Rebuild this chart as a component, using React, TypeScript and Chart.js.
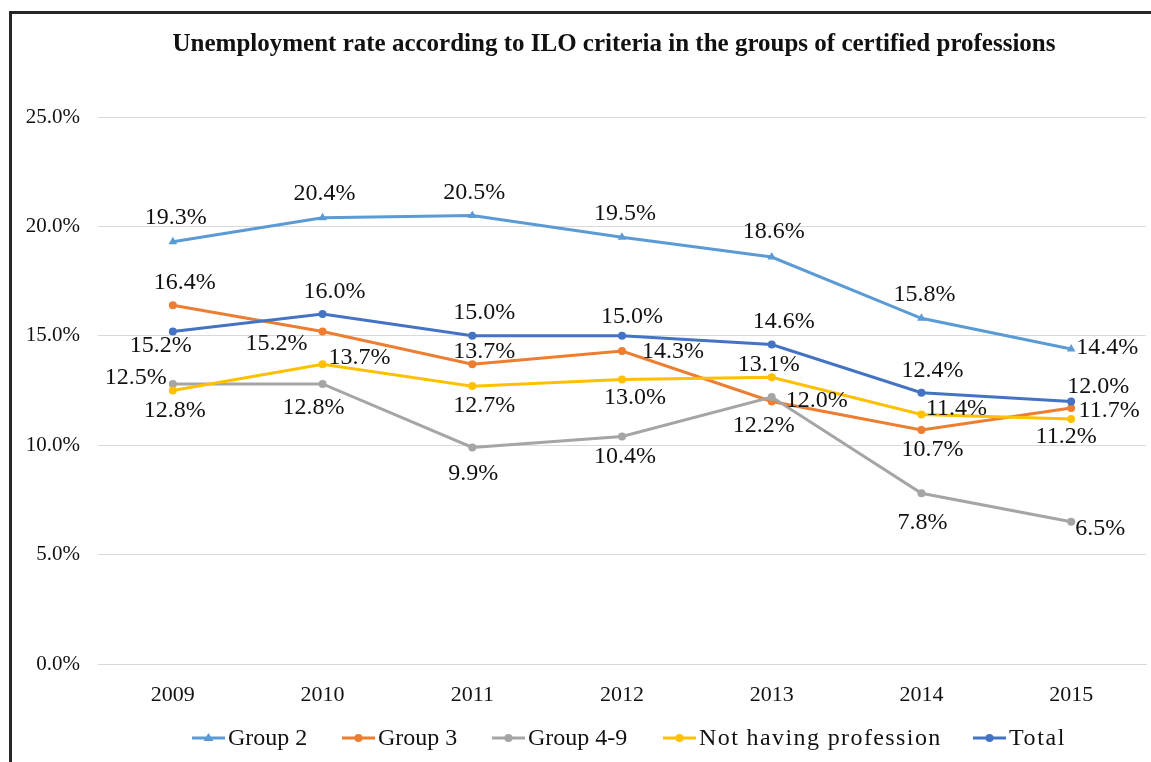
import React, { useEffect, useRef } from "react";
import { Chart, registerables } from "chart.js";

Chart.register(...registerables);

// ---- data ----
const years = ["2009", "2010", "2011", "2012", "2013", "2014", "2015"];
const group2 = [19.3, 20.4, 20.5, 19.5, 18.6, 15.8, 14.4];
const group3 = [16.4, 15.2, 13.7, 14.3, 12.0, 10.7, 11.7];
const group49 = [12.8, 12.8, 9.9, 10.4, 12.2, 7.8, 6.5];
const notHaving = [12.5, 13.7, 12.7, 13.0, 13.1, 11.4, 11.2];
const total = [15.2, 16.0, 15.0, 15.0, 14.6, 12.4, 12.0];
const seriesNames = ["Group 2", "Group 3", "Group 4-9", "Not having profession", "Total"];
const yTicks = [0, 5, 10, 15, 20, 25];
const titleText = "Unemployment rate according to ILO criteria in the groups of certified professions";

// ---- styles ----
const colors = ["#5B9BD5", "#ED7D31", "#A5A5A5", "#FFC000", "#4472C4"];
const pointStyles = ["triangle", "circle", "circle", "circle", "circle"];
const drawOrder = [5, 4, 3, 2, 1];
// label offsets (dx, dy) relative to each point, per series
const labelOffsets: number[][][] = [
  [[3, -24], [2, -24], [2, -23], [3, -24], [2, -25], [3, -24], [36, -1]],
  [[12, -22], [-46, 12], [12, -13], [51, 1], [45, -1], [11, 20], [38, 3]],
  [[2, 27], [-9, 24], [1, 26], [3, 20], [-8, 29], [1, 29], [29, 7]],
  [[-37, -13], [37, -7], [12, 20], [13, 18], [-3, -13], [35, -6], [-5, 18]],
  [[-12, 14], [12, -22], [12, -23], [10, -19], [12, -23], [11, -22], [27, -15]],
];
const legendX = [192, 342, 492, 663, 973];
const legendLetterSpacing = [0, 0, 0, 1.4, 1.6];
const SERIF = '"Liberation Serif", "Times New Roman", serif';

const framePlugin = {
  id: "frame",
  beforeDraw(chart: any) {
    const { ctx, width, height } = chart;
    ctx.save();
    ctx.fillStyle = "#ffffff";
    ctx.fillRect(0, 0, width, height);
    ctx.restore();
  },
  afterDraw(chart: any) {
    const { ctx, width, height } = chart;
    ctx.save();
    // frame
    ctx.strokeStyle = "#262626";
    ctx.lineWidth = 3;
    ctx.beginPath();
    ctx.moveTo(10.5, height);
    ctx.lineTo(10.5, 12.5);
    ctx.lineTo(width, 12.5);
    ctx.stroke();
    // title
    ctx.fillStyle = "#111111";
    ctx.font = `bold 25px ${SERIF}`;
    ctx.textAlign = "center";
    ctx.textBaseline = "middle";
    ctx.fillText(titleText, 614, 45);
    // legend
    ctx.font = `24px ${SERIF}`;
    ctx.textAlign = "left";
    const ly = 738;
    chart.data.datasets.forEach((ds: any, i: number) => {
      const x0 = legendX[i];
      ctx.strokeStyle = colors[i];
      ctx.lineWidth = 3;
      ctx.beginPath();
      ctx.moveTo(x0, ly);
      ctx.lineTo(x0 + 33, ly);
      ctx.stroke();
      ctx.fillStyle = colors[i];
      const cx = x0 + 16.5;
      ctx.beginPath();
      if (pointStyles[i] === "triangle") {
        ctx.moveTo(cx, ly - 5);
        ctx.lineTo(cx + 5, ly + 3);
        ctx.lineTo(cx - 5, ly + 3);
        ctx.closePath();
      } else {
        ctx.arc(cx, ly, 4, 0, Math.PI * 2);
      }
      ctx.fill();
      ctx.fillStyle = "#111111";
      (ctx as any).letterSpacing = legendLetterSpacing[i] + "px";
      ctx.fillText(ds.label, x0 + 36, ly + 1);
      (ctx as any).letterSpacing = "0px";
    });
    ctx.restore();
  },
};

const labelPlugin = {
  id: "pointLabels",
  afterDatasetsDraw(chart: any) {
    const { ctx } = chart;
    ctx.save();
    ctx.font = `24px ${SERIF}`;
    ctx.fillStyle = "#111111";
    ctx.textAlign = "center";
    ctx.textBaseline = "middle";
    chart.data.datasets.forEach((ds: any, i: number) => {
      const meta = chart.getDatasetMeta(i);
      meta.data.forEach((pt: any, j: number) => {
        const off = labelOffsets[i][j];
        ctx.fillText(ds.data[j].toFixed(1) + "%", pt.x + off[0], pt.y + off[1]);
      });
    });
    ctx.restore();
  },
};

export default function App() {
  const ref = useRef<HTMLCanvasElement>(null);
  useEffect(() => {
    document.body.style.margin = "0";
    document.body.style.overflow = "hidden";
    const all = [group2, group3, group49, notHaving, total];
    const chart = new Chart(ref.current!, {
      type: "line",
      data: {
        labels: years,
        datasets: all.map((d, i) => ({
          label: seriesNames[i],
          data: d,
          borderColor: colors[i],
          backgroundColor: colors[i],
          borderWidth: 3,
          pointStyle: pointStyles[i],
          pointRadius: pointStyles[i] === "triangle" ? 5 : 4,
          pointBorderWidth: 0,
          tension: 0,
          order: drawOrder[i],
        })),
      },
      options: {
        animation: false,
        responsive: false,
        maintainAspectRatio: false,
        layout: { padding: { top: 117, right: 4, left: 0, bottom: 0 } },
        plugins: {
          legend: { display: false },
          title: { display: false },
          tooltip: { enabled: false },
        },
        scales: {
          x: {
            offset: true,
            grid: { display: false, drawTicks: false },
            border: { display: true, color: "#d9d9d9", width: 1 },
            ticks: {
              padding: 18,
              color: "#111111",
              font: { family: SERIF, size: 22 },
            },
            afterFit(scale: any) {
              scale.height = 98;
            },
          },
          y: {
            min: 0,
            max: 25,
            afterBuildTicks(scale: any) {
              scale.ticks = yTicks.map((v) => ({ value: v }));
            },
            grid: { color: "#d9d9d9", lineWidth: 1, drawTicks: false },
            border: { display: false },
            ticks: {
              padding: 18,
              color: "#111111",
              font: { family: SERIF, size: 21 },
              callback: (v: any) => Number(v).toFixed(1) + "%",
            },
            afterFit(scale: any) {
              scale.width = 98;
            },
          },
        },
      },
      plugins: [framePlugin, labelPlugin],
    });
    return () => chart.destroy();
  }, []);
  return <canvas ref={ref} width={1151} height={762} style={{ display: "block" }} />;
}
